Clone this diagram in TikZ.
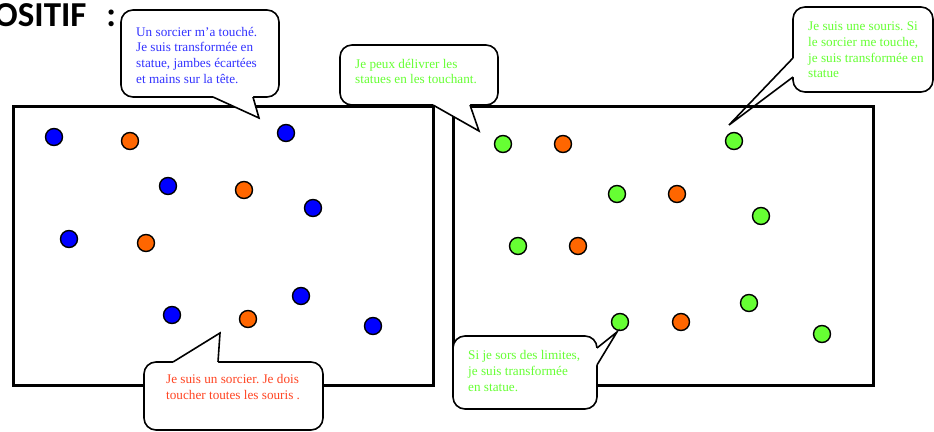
\documentclass[tikz,border=0pt]{standalone}
\usepackage{fontspec}
\setmainfont{Liberation Serif}
\newfontfamily\titlefont{Carlito}
\definecolor{dotblue}{HTML}{0000FF}
\definecolor{dotorange}{HTML}{FF6600}
\definecolor{dotgreen}{HTML}{66FF33}
\definecolor{txtblue}{HTML}{3333FF}
\definecolor{txtgreen}{HTML}{66FF33}
\definecolor{txtorange}{HTML}{FF4422}
\frenchspacing
\begin{document}
\begin{tikzpicture}[x=1pt,y=-1pt,
  field/.style={draw=black,line width=2.8pt},
  bubble/.style={draw=black,fill=white,line width=1.6pt,rounded corners=12pt},
  tailline/.style={draw=black,line width=1.6pt,line join=miter},
  bubtext/.style={anchor=north west,inner sep=0pt,align=left,
     font=\fontsize{13.2}{15.6}\selectfont},
  dotnode/.style={circle,draw=black,line width=1.4pt,minimum size=17pt,inner sep=0pt},
  bdot/.style={dotnode,fill=dotblue},
  odot/.style={dotnode,fill=dotorange},
  gdot/.style={dotnode,fill=dotgreen}]
\useasboundingbox (0,0) rectangle (934,431);
\fill[white] (0,0) rectangle (934,431);

% title
\node[anchor=base west,inner sep=0pt,font=\titlefont\bfseries\fontsize{35}{36}\selectfont] (title) at (-6,27) {OSITIF\hspace{20pt}:};

% bubble 3 (drawn under the field)
\draw[bubble] (793,7) rectangle (933,92);
\fill[white] (796,58) -- (793,58) -- (729,125) -- (793,77) -- (796,77) -- cycle;
\draw[tailline] (793,58) -- (729,125) -- (793,77);

% fields
\node[field,minimum width=420pt,minimum height=279pt,inner sep=0pt,anchor=north west] (left) at (12,105) {};
\node[field,minimum width=420pt,minimum height=279pt,inner sep=0pt,anchor=north west] (right) at (452,105) {};

% left dots
\node[bdot] (l1) at (54,137) {};
\node[odot] (l2) at (130,141) {};
\node[bdot] (l3) at (286,133) {};
\node[bdot] (l4) at (168,186) {};
\node[odot] (l5) at (244,190) {};
\node[bdot] (l6) at (313,208) {};
\node[bdot] (l7) at (69,239) {};
\node[odot] (l8) at (146,243) {};
\node[bdot] (l9) at (172,315) {};
\node[odot] (l10) at (248,319) {};
\node[bdot] (l11) at (301,296) {};
\node[bdot] (l12) at (373,326) {};

% right dots
\node[gdot] (r1) at (503,144) {};
\node[odot] (r2) at (563,144) {};
\node[gdot] (r3) at (734,141) {};
\node[gdot] (r4) at (617,194) {};
\node[odot] (r5) at (677,194) {};
\node[gdot] (r6) at (761,216) {};
\node[gdot] (r7) at (518,246) {};
\node[odot] (r8) at (578,246) {};
\node[gdot] (r9) at (620,322) {};
\node[odot] (r10) at (681,322) {};
\node[gdot] (r11) at (749,303) {};
\node[gdot] (r12) at (822,334) {};

% bubble 1
\draw[bubble] (121,10) rectangle (279,97);
\fill[white] (213,94) -- (213,97) -- (259,118) -- (253,97) -- (253,94) -- cycle;
\draw[tailline] (213,97) -- (259,118) -- (253,97);
% bubble 2
\draw[bubble] (340,45) rectangle (498,105);
\fill[white] (433,102) -- (433,105) -- (479,131) -- (470,105) -- (470,102) -- cycle;
\draw[tailline] (433,105) -- (479,131) -- (470,105);
% bubble 4
\draw[bubble] (144,362) rectangle (323,430);
\fill[white] (173,365) -- (173,362) -- (220,333) -- (218,362) -- (218,365) -- cycle;
\draw[tailline] (173,362) -- (220,333) -- (218,362);
% bubble 5
\draw[bubble] (453,336) rectangle (597,409);
\fill[white] (594,348) -- (597,348) -- (617,332) -- (597,365) -- (594,365) -- cycle;
\draw[tailline] (597,348) -- (617,332) -- (597,365);

% texts
\node[bubtext,text=txtblue] (t1) at (136,27) {Un sorcier m’a touché.\\Je suis transformée en\\statue, jambes écartées\\et mains sur la tête.};
\node[bubtext,text=txtgreen] (t2) at (355,59) {Je peux délivrer les\\statues en les touchant.};
\node[bubtext,text=txtgreen] (t3) at (808,22) {Je suis une souris. Si\\le sorcier me touche,\\je suis transformée en\\statue};
\node[bubtext,text=txtorange] (t4) at (166,374.5) {Je suis un sorcier. Je dois\\toucher toutes les souris .};
\node[bubtext,text=txtgreen] (t5) at (468,350.5) {Si je sors des limites,\\je suis transformée\\en statue.};
\end{tikzpicture}
\end{document}
